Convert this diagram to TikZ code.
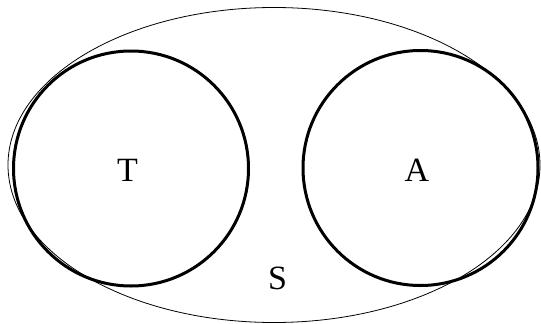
\documentclass[tikz,border=0pt]{standalone}
\usepackage{fontspec}
\setmainfont{Liberation Serif}
\begin{document}
\begin{tikzpicture}[x=1pt,y=-1pt,
  setcircle/.style={draw, circle, line width=3pt, minimum size=235pt, inner sep=0pt},
  lbl/.style={font=\fontsize{34}{40}\selectfont, inner sep=0pt}]
\useasboundingbox (0,0) rectangle (541,324);
\draw[line width=0.8pt] (274,165) ellipse [x radius=266, y radius=157.5];
\node[setcircle] (Tc) at (131,168.5) {};
\node[setcircle] (Ac) at (420.5,168) {};
\node[lbl] (T) at (127.5,170) {T};
\node[lbl] (A) at (417,170) {A};
\node[lbl] (S) at (277.5,278) {S};
\end{tikzpicture}
\end{document}
